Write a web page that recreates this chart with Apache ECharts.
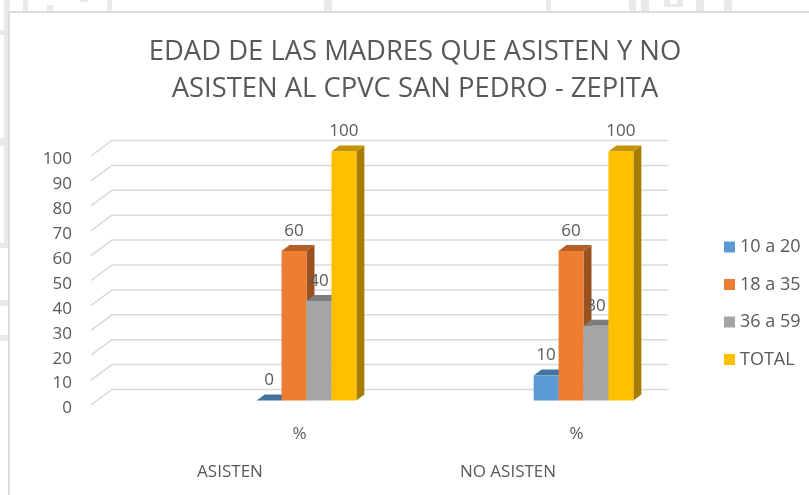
<!DOCTYPE html>
<html>
<head>
<meta charset="utf-8">
<style>html,body{margin:0;padding:0;background:#fff}#c{width:809px;height:495px}</style>
<script src="https://cdn.jsdelivr.net/npm/echarts@6/dist/echarts.min.js"></script>
</head>
<body>
<div id="c"></div>
<script>
var groupLabels = ['ASISTEN', 'NO ASISTEN'];
var unitLabels = ['%', '%'];
var seriesNames = ['10 a 20', '18 a 35', '36 a 59', 'TOTAL'];
var v1020 = [0, 10];
var v1835 = [60, 60];
var v3659 = [40, 30];
var vTotal = [100, 100];
var gridTicks = [0, 10, 20, 30, 40, 50, 60, 70, 80, 90, 100];
var titleText = 'EDAD DE LAS MADRES QUE ASISTEN Y NO\nASISTEN AL CPVC SAN PEDRO - ZEPITA';

var FONT = '"Open Sans", sans-serif';
var TXT = '#595959';
var palette = [
  {front: '#5B9BD5', top: '#44739F', side: '#3A6690'},
  {front: '#ED7D31', top: '#B55E25', side: '#9C5120'},
  {front: '#A5A5A5', top: '#7C7C7C', side: '#6E6E6E'},
  {front: '#FFC000', top: '#C49300', side: '#A67D00'}
];

function barSeries(name, values, idx) {
  var col = palette[idx];
  return {
    name: name, type: 'custom', xAxisIndex: 1, yAxisIndex: 1, z: 5 + idx,
    itemStyle: {color: col.front},
    encode: {x: 0, y: 1},
    data: values.map(function (v, i) { return [i, v]; }),
    renderItem: function (params, api) {
      var band = api.size([1, 0])[0];
      var w = band * 0.09;
      var base = api.coord([api.value(0), 0]);
      var topPt = api.coord([api.value(0), api.value(1)]);
      var ox = 7, oy = -4.5, dx = 8, dy = -6;
      var x0 = base[0] + ox + (idx - 2) * w;
      var x1 = x0 + w;
      var yb = base[1] + oy, yt = topPt[1] + oy;
      return {
        type: 'group',
        children: [
          {type: 'polygon', shape: {points: [[x1, yb], [x1 + dx, yb + dy], [x1 + dx, yt + dy], [x1, yt]]}, style: {fill: col.side}},
          {type: 'polygon', shape: {points: [[x0, yt], [x1, yt], [x1 + dx, yt + dy], [x0 + dx, yt + dy]]}, style: {fill: col.top}},
          {type: 'rect', shape: {x: x0, y: yt, width: w, height: yb - yt}, style: {fill: col.front}},
          {type: 'text', z2: 50, style: {x: (x0 + x1) / 2, y: yt - 20, text: String(api.value(1)), fill: TXT, font: '17px ' + FONT, align: 'center', verticalAlign: 'middle'}}
        ]
      };
    }
  };
}

function ghost(x, y, w, h) {
  return {type: 'rect', silent: true, z: -1, shape: {x: x, y: y, width: w, height: h}, style: {fill: '#E8E9EA'}};
}
var ghosts = [
  [4, 0, 6, 245], [0, 30, 5, 5], [0, 138, 5, 8], [0, 243, 8, 5], [0, 300, 8, 6], [0, 335, 8, 6],
  [23, 0, 5, 11], [47, 5, 6, 6], [80, 0, 8, 2], [107, 0, 5, 11], [324, 0, 8, 11],
  [546, 0, 5, 11], [629, 0, 7, 11], [641, 0, 8, 11], [664, 0, 6, 7], [677, 0, 6, 7], [664, 4, 19, 3],
  [696, 0, 8, 11], [724, 0, 8, 11]
].map(function (r) { return ghost(r[0], r[1], r[2], r[3]); });

var option = {
  animation: false,
  backgroundColor: '#ffffff',
  title: {
    text: titleText, left: 410, top: 29, textAlign: 'center',
    textStyle: {fontFamily: FONT, fontSize: 27.4, fontWeight: 'normal', color: TXT, lineHeight: 37}
  },
  legend: {
    orient: 'vertical', left: 719, top: 233, itemWidth: 11, itemHeight: 11, itemGap: 19.5,
    icon: 'rect', data: seriesNames,
    textStyle: {fontFamily: FONT, fontSize: 18, color: TXT, padding: [0, 0, 0, 0]}
  },
  grid: [
    {left: 91, top: 156, width: 556, height: 249},
    {left: 161, top: 156, width: 554, height: 249},
    {left: 91, top: 159.5, width: 556, height: 249}
  ],
  xAxis: [
    {type: 'category', gridIndex: 0, data: groupLabels, axisLine: {show: false}, axisTick: {show: false},
     axisLabel: {margin: 67, color: TXT, fontFamily: FONT, fontSize: 17, verticalAlign: 'middle'}},
    {type: 'category', gridIndex: 1, data: unitLabels, axisLine: {show: false}, axisTick: {show: false},
     axisLabel: {margin: 29, color: TXT, fontFamily: FONT, fontSize: 17, verticalAlign: 'middle', interval: 0}},
    {type: 'category', gridIndex: 2, data: groupLabels, show: false}
  ],
  yAxis: [
    {type: 'value', gridIndex: 0, min: 0, max: 100, interval: 10, show: false, splitLine: {show: false}},
    {type: 'value', gridIndex: 1, min: 0, max: 100, interval: 10, show: false, splitLine: {show: false}},
    {type: 'value', gridIndex: 2, min: 0, max: 100, interval: 10, axisLine: {show: false}, axisTick: {show: false}, splitLine: {show: false},
     axisLabel: {margin: 19, color: TXT, fontFamily: FONT, fontSize: 17}}
  ],
  graphic: ghosts.concat([
    {type: 'polyline', silent: true, z: 0, shape: {points: [[9, 495], [9, 12], [809, 12]]}, style: {stroke: '#DCDCDC', fill: null, lineWidth: 2}}
  ]),
  series: [
    {
      type: 'custom', xAxisIndex: 0, yAxisIndex: 0, z: 1, silent: true, clip: false,
      encode: {y: 0},
      data: gridTicks.map(function (t) { return [t]; }),
      renderItem: function (params, api) {
        var p = api.coord([0, api.value(0)]);
        var L = params.coordSys.x, W = params.coordSys.width;
        return {type: 'polyline', shape: {points: [[L, p[1]], [L + 21, p[1] - 15.5], [L + W + 21, p[1] - 15.5]]},
                style: {stroke: '#D9D9D9', lineWidth: 1.5, fill: null}};
      }
    },
    barSeries(seriesNames[0], v1020, 0),
    barSeries(seriesNames[1], v1835, 1),
    barSeries(seriesNames[2], v3659, 2),
    barSeries(seriesNames[3], vTotal, 3)
  ]
};
echarts.init(document.getElementById('c'), null, {renderer: 'canvas'}).setOption(option);
</script>
</body>
</html>
